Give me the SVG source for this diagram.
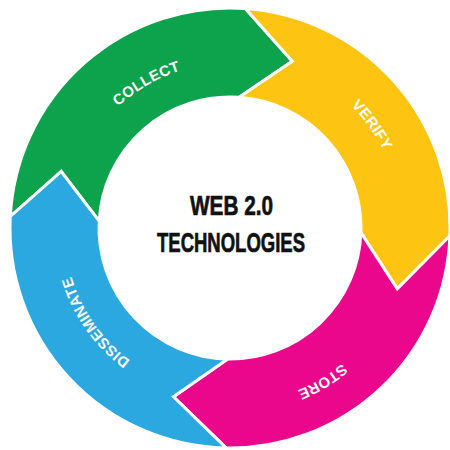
<svg xmlns="http://www.w3.org/2000/svg" xmlns:xlink="http://www.w3.org/1999/xlink" width="450" height="450" viewBox="0 0 450 450">
<style>
.seg{stroke:#fff;stroke-width:3;stroke-linejoin:miter}
.lbl{font-family:"Liberation Sans",Arial,sans-serif;font-weight:bold;font-size:15px;fill:#fff;letter-spacing:0.3px}
.ctr{font-family:"Liberation Sans",Arial,sans-serif;font-weight:bold;font-size:28px;fill:#111;stroke:#111;stroke-width:0.7}
</style>
<defs>
<path id="pCollect" d="M65,228 A165,165 0 0 1 312.5,85.1"/>
<path id="pVerify" d="M212,56.9 A172,172 0 0 1 387.1,298"/>
<path id="pStore" d="M406,224.9 A176,176 0 0 1 144.7,381.9"/>
<path id="pDiss" d="M244.5,393.4 A166,166 0 0 1 79.6,157.8"/>
</defs>
<rect width="450" height="450" fill="#fff"/>
<g id="collect">
<path class="seg" fill="#0DA24C" d="M10.3,216.5 A220,220 0 0 1 245.3,8.5 L292.3,61.3 L239.1,97.3 A131,131 0 0 0 99.2,221.1 L61.2,171.5 Z"/>
<text class="lbl"><textPath xlink:href="#pCollect" href="#pCollect" startOffset="50%" text-anchor="middle">COLLECT</textPath></text>
</g>
<g id="verify">
<path class="seg" fill="#FDC512" d="M245.3,8.5 A220,220 0 0 1 449.9,235.7 L397.3,288.9 L360.9,232.6 A131,131 0 0 0 239.1,97.3 L292.3,61.3 Z"/>
<text class="lbl"><textPath xlink:href="#pVerify" href="#pVerify" startOffset="50%" text-anchor="middle">VERIFY</textPath></text>
</g>
<g id="store">
<path class="seg" fill="#EA078C" d="M449.9,235.7 A220,220 0 0 1 226.2,448 L173.5,396.8 L227.7,359 A131,131 0 0 0 360.9,232.6 L397.3,288.9 Z"/>
<text class="lbl"><textPath xlink:href="#pStore" href="#pStore" startOffset="50%" text-anchor="middle">STORE</textPath></text>
</g>
<g id="disseminate">
<path class="seg" fill="#2BA8E0" d="M226.2,448 A220,220 0 0 1 10.3,216.5 L61.2,171.5 L99.2,221.1 A131,131 0 0 0 227.7,359 L173.5,396.8 Z"/>
<text class="lbl"><textPath xlink:href="#pDiss" href="#pDiss" startOffset="50%" text-anchor="middle">DISSEMINATE</textPath></text>
</g>
<g id="center">
<text class="ctr" x="231.5" y="215" text-anchor="middle" textLength="83" lengthAdjust="spacingAndGlyphs">WEB 2.0</text>
<text class="ctr" x="231" y="252" text-anchor="middle" textLength="148" lengthAdjust="spacingAndGlyphs">TECHNOLOGIES</text>
</g>
<g id="connectors"/>
</svg>
